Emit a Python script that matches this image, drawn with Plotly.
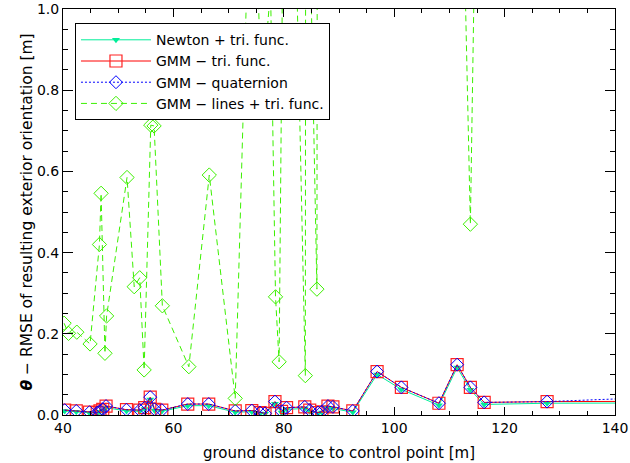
import plotly.graph_objects as go

# ---------------- data ----------------
dist = [40.3, 42.4, 44.8, 46.2, 46.7, 47.2, 47.8, 51.5, 53.9, 54.8, 55.8, 56.6,
        57.9, 62.6, 66.4, 71.2, 74.2, 75.7, 76.6, 78.4, 79.6, 80.5, 83.8, 84.7,
        86.2, 86.9, 88.0, 88.9, 92.5, 96.9, 101.3, 108.1, 111.4, 113.8, 116.3,
        127.7, 160.0]

newton_tri = [0.010, 0.008, 0.005, 0.004, 0.008, 0.011, 0.018, 0.010, 0.009, 0.015,
              0.038, 0.011, 0.009, 0.023, 0.023, 0.007, 0.008, 0.004, 0.003, 0.028,
              0.006, 0.014, 0.016, 0.009, 0.004, 0.006, 0.018, 0.016, 0.007, 0.100,
              0.063, 0.024, 0.117, 0.062, 0.026, 0.029, 0.030]

gmm_tri = [0.012, 0.010, 0.007, 0.006, 0.010, 0.014, 0.022, 0.013, 0.012, 0.018,
           0.044, 0.014, 0.012, 0.027, 0.027, 0.010, 0.011, 0.006, 0.004, 0.033,
           0.009, 0.018, 0.020, 0.012, 0.006, 0.008, 0.022, 0.020, 0.010, 0.107,
           0.068, 0.029, 0.124, 0.068, 0.031, 0.033, 0.034]

gmm_quat = [0.012, 0.010, 0.007, 0.006, 0.010, 0.014, 0.022, 0.013, 0.012, 0.018,
            0.044, 0.014, 0.012, 0.027, 0.027, 0.010, 0.011, 0.006, 0.004, 0.033,
            0.009, 0.018, 0.020, 0.012, 0.006, 0.008, 0.022, 0.020, 0.010, 0.107,
            0.068, 0.029, 0.124, 0.068, 0.031, 0.033, 0.050]

lines_dist = [40.2, 41.0, 42.5, 44.9, 46.6, 46.9, 47.6, 47.9, 51.6, 52.9, 53.9, 54.7,
              55.9, 56.5, 58.0, 62.8, 66.5, 71.2, 74.2, 76.0, 77.6, 78.5, 79.15, 80.5,
              83.9, 84.3, 84.7, 86.0, 86.5, 88.0, 88.9, 92.5, 96.9, 101.3, 108.1,
              111.4, 113.8, 116.3, 127.7, 160.0]

gmm_lines = [0.226, 0.201, 0.204, 0.175, 0.420, 0.546, 0.152, 0.244, 0.585, 0.316,
             0.338, 0.111, 0.714, 0.712, 0.269, 0.119, 0.591, 0.041, 1.50, 0.776,
             1.05, 0.291, 0.131, 2.23, 0.097, 8.0, 1.21, 0.310, 8.0, 6.0,
             5.0, 7.0, 4.0, 5.0, 3.0, 1.95, 0.470, 2.66, 5.0, 5.0]

names = ["Newton + tri. func.", "GMM − tri. func.", "GMM − quaternion",
         "GMM − lines + tri. func."]

x_ticks = [40, 60, 80, 100, 120, 140]
y_ticks = [0.0, 0.2, 0.4, 0.6, 0.8, 1.0]

FONT = "DejaVu Sans"

fig = go.Figure()

fig.add_trace(go.Scatter(
    x=dist, y=newton_tri, name=names[0], mode="lines+markers",
    line=dict(color="#00ee99", width=1),
    marker=dict(symbol="triangle-down", size=7, color="#00ee99"),
))
fig.add_trace(go.Scatter(
    x=dist, y=gmm_tri, name=names[1], mode="lines+markers",
    line=dict(color="#ff0000", width=1),
    marker=dict(symbol="square-open", size=12, color="#ff2222",
                line=dict(width=1.2)),
))
fig.add_trace(go.Scatter(
    x=dist, y=gmm_quat, name=names[2], mode="lines+markers",
    line=dict(color="#0000ff", width=1, dash="2px,2px"),
    marker=dict(symbol="diamond-open", size=10, color="#0000ff",
                line=dict(width=1)),
))
fig.add_trace(go.Scatter(
    x=lines_dist, y=gmm_lines, name=names[3], mode="lines+markers",
    line=dict(color="#3cf000", width=1, dash="6px,4px"),
    marker=dict(symbol="diamond-open", size=11, color="#3cf000",
                line=dict(width=1)),
))

fig.update_layout(
    width=630, height=463,
    margin=dict(l=63, r=15, t=9, b=48, autoexpand=False),
    paper_bgcolor="white", plot_bgcolor="white",
    font=dict(family=FONT, size=14, color="black"),
    showlegend=True,
    legend=dict(
        x=0.0217, y=0.965, xanchor="left", yanchor="top",
        bgcolor="white", bordercolor="black", borderwidth=1,
        font=dict(family=FONT, size=14, color="black"),
        itemwidth=70, tracegroupgap=0,
    ),
    xaxis=dict(
        range=[40, 140], tickvals=x_ticks, ticks="inside", ticklen=8,
        tickcolor="black", tickwidth=1, automargin=False,
        minor=dict(dtick=5, ticks="inside", ticklen=4, tickcolor="black"),
        showline=True, linecolor="black", linewidth=1, mirror="ticks",
        showgrid=False, zeroline=False,
        tickfont=dict(family=FONT, size=14),
        title=dict(text="ground distance to control point [m]",
                   font=dict(family=FONT, size=15), standoff=12),
    ),
    yaxis=dict(
        range=[0, 1], tickvals=y_ticks, tickformat=".1f", ticks="inside",
        ticklen=10, tickcolor="black", tickwidth=1, automargin=False,
        minor=dict(dtick=0.05, ticks="inside", ticklen=5, tickcolor="black"),
        showline=True, linecolor="black", linewidth=1, mirror="ticks",
        showgrid=False, zeroline=False,
        tickfont=dict(family=FONT, size=14),
        title=dict(text="<b><i>θ</i></b> − RMSE of resulting exterior orientation [m]",
                   font=dict(family=FONT, size=15.5), standoff=0),
    ),
)

fig.write_html("out.html", config={"displayModeBar": False},
               post_script="document.body.style.margin='0';")
